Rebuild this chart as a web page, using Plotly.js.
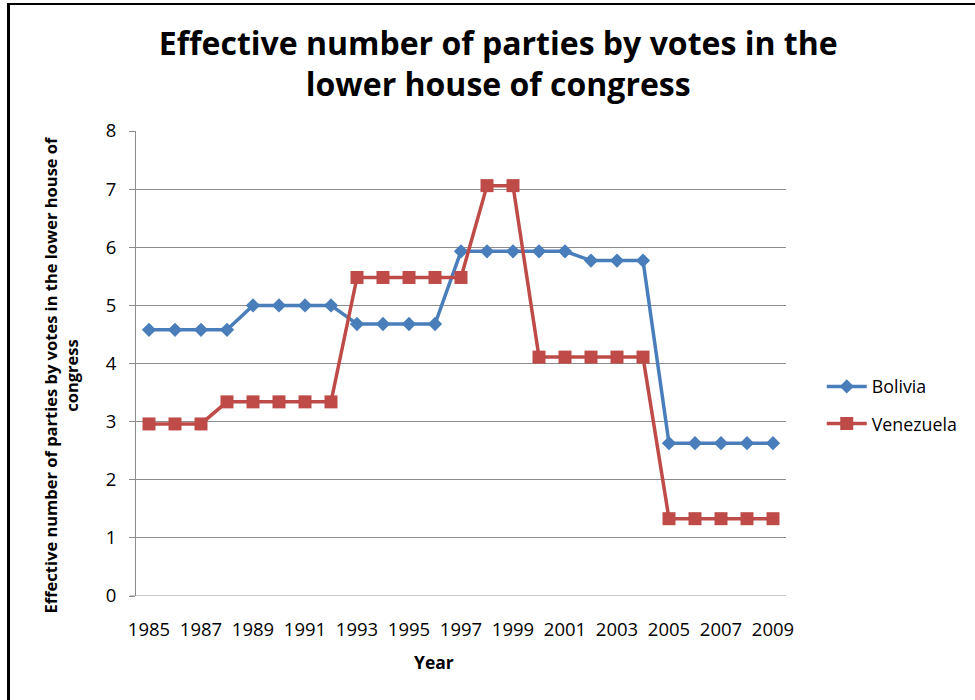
<!DOCTYPE html>
<html>
<head>
<meta charset="utf-8">
<script src="https://cdn.plot.ly/plotly-3.0.1.min.js"></script>
<style>
  html, body { margin: 0; padding: 0; background: #fff; }
  #wrap { position: relative; width: 975px; height: 700px; overflow: hidden; }
  #chart { position: absolute; left: 0; top: 0; width: 975px; height: 700px; }
  #frame { position: absolute; left: 7px; top: 3px; width: 990px; height: 720px;
           border-left: 3px solid #000; border-top: 2px solid #000; pointer-events: none; }
</style>
</head>
<body>
<div id="wrap">
  <div id="chart"></div>
  <div id="frame"></div>
</div>
<script>
// Effective number of parties (by votes), lower house, 1985-2009
const years = [1985, 1986, 1987, 1988, 1989, 1990, 1991, 1992, 1993, 1994, 1995, 1996, 1997,
               1998, 1999, 2000, 2001, 2002, 2003, 2004, 2005, 2006, 2007, 2008, 2009];
const bolivia = [4.58, 4.58, 4.58, 4.58, 5.00, 5.00, 5.00, 5.00, 4.68, 4.68, 4.68, 4.68, 5.93,
                 5.93, 5.93, 5.93, 5.93, 5.77, 5.77, 5.77, 2.63, 2.63, 2.63, 2.63, 2.63];
const venezuela = [2.96, 2.96, 2.96, 3.34, 3.34, 3.34, 3.34, 3.34, 5.48, 5.48, 5.48, 5.48, 5.48,
                   7.06, 7.06, 4.11, 4.11, 4.11, 4.11, 4.11, 1.33, 1.33, 1.33, 1.33, 1.33];
const xTicks = [1985, 1987, 1989, 1991, 1993, 1995, 1997, 1999, 2001, 2003, 2005, 2007, 2009];
const yTicks = [0, 1, 2, 3, 4, 5, 6, 7, 8];

const FONT = '"Open Sans", "DejaVu Sans", sans-serif';

const traces = [
  {
    x: years, y: bolivia, name: 'Bolivia', type: 'scatter', mode: 'lines+markers',
    legendgroup: 'a',
    line: { color: '#4A7EBB', width: 3.5 },
    marker: { symbol: 'diamond', size: 11, color: '#4A7EBB' }
  },
  {
    x: years, y: venezuela, name: 'Venezuela', type: 'scatter', mode: 'lines+markers',
    legendgroup: 'b',
    line: { color: '#BE4B48', width: 3.5 },
    marker: { symbol: 'square', size: 13, color: '#BE4B48' }
  }
];

const layout = {
  width: 975, height: 700,
  margin: { l: 136, r: 189, t: 131, b: 104 },
  paper_bgcolor: '#fff', plot_bgcolor: '#fff',
  font: { family: FONT, color: '#000', size: 18 },
  title: {
    text: '<b>Effective number of parties by votes in the<br>lower house of congress</b>',
    font: { family: FONT, size: 32, color: '#000' },
    x: 0.511, xanchor: 'center', y: 0.922, yanchor: 'middle'
  },
  showlegend: true,
  legend: {
    x: 1.055, xanchor: 'left', y: 0.41, yanchor: 'middle',
    font: { family: FONT, size: 17.8, color: '#000' },
    traceorder: 'grouped', tracegroupgap: 11, itemwidth: 40,
    bgcolor: 'rgba(0,0,0,0)'
  },
  xaxis: {
    type: 'linear', range: [1984.5, 2009.5], tickvals: xTicks,
    ticktext: xTicks.map(String),
    showgrid: false, zeroline: false,
    showline: false, ticks: '',
    ticklabelstandoff: 20,
    tickfont: { family: FONT, size: 18.5, color: '#000' }
  },
  yaxis: {
    range: [0, 8], tickvals: yTicks, showgrid: true, gridcolor: '#8C8C8C', gridwidth: 1,
    zeroline: false, showline: true, linecolor: '#8C8C8C', linewidth: 1,
    ticks: 'outside', ticklen: 6, tickcolor: '#8C8C8C',
    ticklabelstandoff: 9,
    tickfont: { family: FONT, size: 18.5, color: '#000' }
  },
  shapes: [
    { type: 'line', xref: 'paper', yref: 'y', x0: -0.01, x1: 1, y0: 0, y1: 0,
      line: { color: '#8C8C8C', width: 1 } }
  ],
  annotations: [
    { text: '<b>Year</b>', xref: 'paper', yref: 'paper', x: 0.458, y: -0.141,
      xanchor: 'center', yanchor: 'middle', showarrow: false,
      font: { family: FONT, size: 17.5, color: '#000' } },
    { text: '<b>Effective number of parties by votes in the lower house of<br>congress</b>',
      xref: 'paper', yref: 'paper', x: -0.115, y: 0.477, textangle: -90,
      xanchor: 'center', yanchor: 'middle', showarrow: false,
      font: { family: FONT, size: 16.5, color: '#000' } }
  ]
};

Plotly.newPlot('chart', traces, layout, { displayModeBar: false, staticPlot: true });
</script>
</body>
</html>
